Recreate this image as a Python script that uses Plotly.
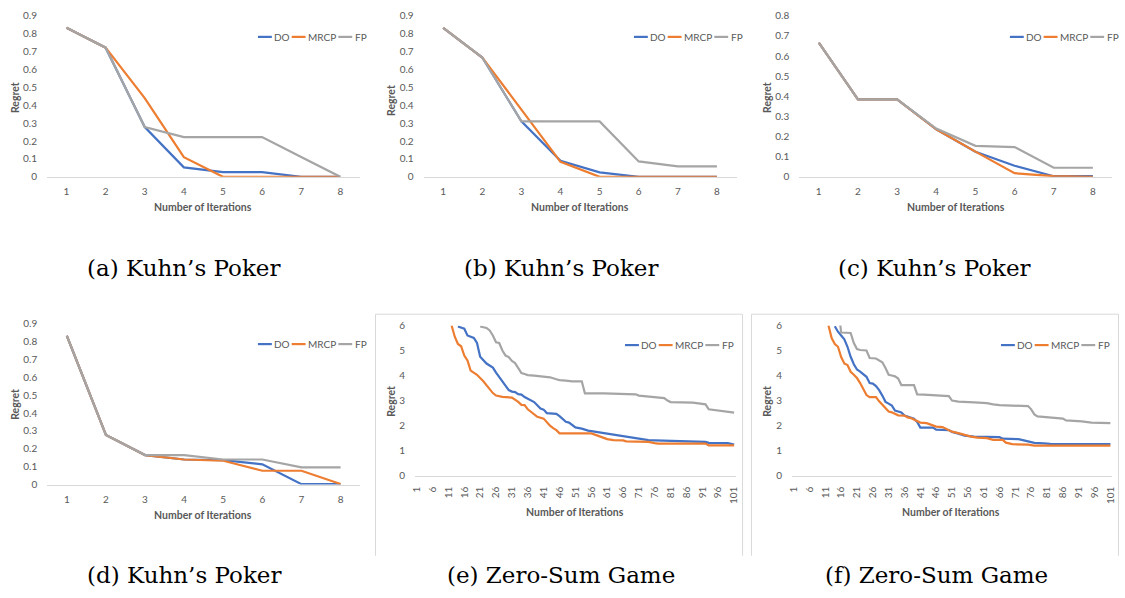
import plotly.graph_objects as go

W, H = 1125, 598

# ---------------- data ----------------
kuhn_iters = [1, 2, 3, 4, 5, 6, 7, 8]

a_do = [0.833, 0.722, 0.278, 0.053, 0.026, 0.026, 0.0, 0.0]
a_mrcp = [0.833, 0.722, 0.44, 0.11, 0.0, 0.0, 0.0, 0.0]
a_fp = [0.833, 0.722, 0.278, 0.222, 0.222, 0.222, 0.111, 0.0]

b_do = [0.833, 0.667, 0.31, 0.09, 0.025, 0.0, 0.0, 0.0]
b_mrcp = [0.833, 0.667, 0.376, 0.084, 0.0, 0.0, 0.0, 0.0]
b_fp = [0.833, 0.667, 0.31, 0.31, 0.31, 0.086, 0.058, 0.058]

c_do = [0.667, 0.385, 0.385, 0.236, 0.125, 0.055, 0.003, 0.003]
c_mrcp = [0.667, 0.385, 0.385, 0.236, 0.125, 0.018, 0.003, 0.0]
c_fp = [0.667, 0.385, 0.385, 0.24, 0.154, 0.148, 0.045, 0.045]

d_do = [0.833, 0.278, 0.165, 0.14, 0.137, 0.113, 0.002, 0.002]
d_mrcp = [0.833, 0.278, 0.165, 0.14, 0.133, 0.077, 0.077, 0.003]
d_fp = [0.833, 0.278, 0.165, 0.165, 0.14, 0.14, 0.096, 0.096]

# zero-sum game runs: (iteration, regret) at the points where the curves change
e_do_it = [14, 16, 17, 19, 20, 21, 23, 25, 26, 28, 30, 31, 32, 33, 34, 35, 37, 38, 40, 41,
           42, 45, 46, 48, 49, 51, 53, 55, 57, 59, 61, 64, 66, 69, 71, 74, 76, 78, 80, 88,
           92, 93, 99, 101]
e_do = [5.96, 5.87, 5.6, 5.5, 5.3, 4.75, 4.48, 4.32, 4.12, 3.77, 3.42, 3.36, 3.34, 3.26, 3.24,
        3.14, 3.0, 2.94, 2.68, 2.64, 2.5, 2.47, 2.38, 2.15, 2.12, 1.93, 1.88, 1.8, 1.76, 1.72,
        1.68, 1.63, 1.58, 1.52, 1.47, 1.42, 1.41, 1.4, 1.38, 1.37, 1.35, 1.31, 1.3, 1.24]

e_mrcp_it = [12, 13, 14, 15, 16, 17, 18, 20, 22, 23, 24, 25, 26, 28, 31, 32, 33, 34, 35, 36,
             37, 38, 39, 41, 42, 43, 44, 45, 46, 56, 58, 60, 61, 63, 66, 67, 74, 76, 77, 92,
             93, 101]
e_mrcp = [6.0, 5.55, 5.26, 5.17, 4.8, 4.6, 4.2, 4.03, 3.77, 3.6, 3.45, 3.3, 3.2, 3.15, 3.12,
          3.05, 2.95, 2.83, 2.82, 2.65, 2.55, 2.45, 2.35, 2.28, 2.12, 2.0, 1.9, 1.82, 1.69,
          1.69, 1.6, 1.5, 1.46, 1.42, 1.41, 1.37, 1.35, 1.3, 1.28, 1.28, 1.21, 1.21]

e_fp_it = [21, 23, 24, 25, 26, 27, 28, 29, 30, 31, 32, 33, 34, 35, 36, 38, 41, 43, 45, 46,
           48, 50, 53, 54, 60, 67, 70, 71, 76, 79, 80, 81, 88, 90, 92, 93, 96, 98, 101]
e_fp = [5.96, 5.9, 5.8, 5.6, 5.33, 5.3, 5.0, 4.8, 4.74, 4.58, 4.5, 4.3, 4.1, 4.06, 4.02, 4.0,
        3.96, 3.93, 3.85, 3.82, 3.8, 3.77, 3.77, 3.29, 3.29, 3.27, 3.25, 3.2, 3.13, 3.1, 3.0,
        2.94, 2.92, 2.88, 2.85, 2.65, 2.6, 2.55, 2.52]

f_do_it = [14, 15, 16, 17, 18, 19, 20, 21, 22, 23, 24, 25, 26, 27, 28, 29, 30, 31, 32, 33,
           34, 35, 36, 37, 38, 39, 40, 41, 45, 46, 50, 51, 53, 55, 58, 66, 67, 72, 74, 76,
           77, 80, 82, 101]
f_do = [5.97, 5.75, 5.6, 5.45, 5.15, 4.75, 4.45, 4.24, 4.16, 4.05, 3.95, 3.7, 3.68, 3.58,
        3.42, 3.2, 2.95, 2.88, 2.8, 2.6, 2.55, 2.53, 2.4, 2.35, 2.32, 2.28, 2.15, 1.92, 1.92,
        1.84, 1.82, 1.75, 1.68, 1.6, 1.56, 1.54, 1.48, 1.46, 1.4, 1.35, 1.31, 1.29, 1.27, 1.26]

f_mrcp_it = [12, 13, 14, 15, 16, 17, 18, 19, 20, 21, 22, 23, 24, 25, 27, 28, 29, 30, 31, 32,
             33, 34, 36, 37, 38, 39, 40, 41, 43, 45, 46, 48, 49, 51, 53, 55, 57, 59, 62, 64,
             67, 68, 70, 75, 77, 101]
f_mrcp = [6.0, 5.5, 5.26, 5.15, 4.74, 4.48, 4.42, 4.15, 4.03, 3.9, 3.7, 3.45, 3.22, 3.14,
          3.14, 2.97, 2.82, 2.68, 2.56, 2.53, 2.46, 2.41, 2.4, 2.33, 2.3, 2.24, 2.2, 2.12, 2.1,
          2.02, 1.96, 1.94, 1.89, 1.76, 1.7, 1.62, 1.56, 1.52, 1.5, 1.43, 1.43, 1.32, 1.26,
          1.24, 1.2, 1.2]

f_fp_it = [15, 16, 19, 20, 21, 22, 24, 25, 27, 28, 29, 30, 31, 32, 33, 34, 35, 39, 40, 42,
           44, 48, 50, 51, 53, 58, 62, 64, 66, 70, 75, 76, 77, 78, 82, 84, 86, 87, 91, 92,
           95, 101]
f_fp = [6.8, 5.72, 5.7, 5.3, 5.06, 5.02, 5.0, 4.7, 4.68, 4.62, 4.53, 4.3, 4.03, 4.0, 3.97,
        3.88, 3.62, 3.62, 3.25, 3.24, 3.22, 3.2, 3.18, 3.0, 2.96, 2.93, 2.9, 2.85, 2.82, 2.8,
        2.78, 2.65, 2.45, 2.37, 2.34, 2.3, 2.28, 2.21, 2.2, 2.17, 2.12, 2.1]

series_names = ["DO", "MRCP", "FP"]
series_colors = ["#4472C4", "#ED7D31", "#A5A5A5"]

kuhn_ticks = [1, 2, 3, 4, 5, 6, 7, 8]
zs_ticks = list(range(1, 102, 5))

captions = ["(a) Kuhn’s Poker", "(b) Kuhn’s Poker", "(c) Kuhn’s Poker",
            "(d) Kuhn’s Poker", "(e) Zero-Sum Game", "(f) Zero-Sum Game"]

# ---------------- layout helpers ----------------
TXT = "#595959"
FONT = "Lato"


def px_x(x):
    return x / W


def px_y(y):
    return 1 - y / H


panels = [
    dict(box=(42.3, 357.7, 9, 173.3), ymax=0.9, ystep=0.1, kind="kuhn",
         x=[kuhn_iters] * 3, y=[a_do, a_mrcp, a_fp],
         ytitle=(10, 92), xtitle=(200, 204), legend=(255, 30.5), caption=(180, 266)),
    dict(box=(422.0, 737.4, 9, 173.3), ymax=0.9, ystep=0.1, kind="kuhn",
         x=[kuhn_iters] * 3, y=[b_do, b_mrcp, b_fp],
         ytitle=(389, 95), xtitle=(580, 204), legend=(634, 30.5), caption=(560, 266)),
    dict(box=(800.6, 1116.4, 9, 173.3), ymax=0.8, ystep=0.1, kind="kuhn",
         x=[kuhn_iters] * 3, y=[c_do, c_mrcp, c_fp],
         ytitle=(768, 92), xtitle=(959, 204), legend=(1013, 30.5), caption=(937, 266)),
    dict(box=(42.6, 358.0, 323.3, 487.3), ymax=0.9, ystep=0.1, kind="kuhn",
         x=[kuhn_iters] * 3, y=[d_do, d_mrcp, d_fp],
         ytitle=(10, 405), xtitle=(200, 518), legend=(255, 344), caption=(180, 580)),
    dict(box=(413.4, 736.6, 325, 478.3), ymax=6, ystep=1, kind="zs",
         x=[e_do_it, e_mrcp_it, e_fp_it], y=[e_do, e_mrcp, e_fp],
         ytitle=(389, 402), xtitle=(575, 515), legend=(625, 345), caption=(560, 580)),
    dict(box=(793.4, 1115.9, 325, 478.3), ymax=6, ystep=1, kind="zs",
         x=[f_do_it, f_mrcp_it, f_fp_it], y=[f_do, f_mrcp, f_fp],
         ytitle=(768, 402), xtitle=(954, 515), legend=(1004, 345), caption=(939, 580)),
]

fig = go.Figure()
layout = dict(
    width=W, height=H, margin=dict(l=0, r=0, t=0, b=0, pad=0), autosize=False,
    paper_bgcolor="white", plot_bgcolor="white", showlegend=False,
    font=dict(family=FONT, color=TXT, size=10),
)
shapes = []
annotations = []


def label(x, y, text, size=10.5, family=FONT, color=TXT, angle=0, xanchor="center"):
    annotations.append(dict(x=px_x(x), y=px_y(y), xref="paper", yref="paper", text=text,
                            textangle=angle, xanchor=xanchor, yanchor="middle",
                            showarrow=False, font=dict(family=family, size=size, color=color)))


for i, p in enumerate(panels):
    n = "" if i == 0 else str(i + 1)
    xa, ya = "x" + n, "y" + n
    left, right, top, bottom = p["box"]
    for k in range(3):
        fig.add_trace(go.Scatter(
            x=p["x"][k], y=p["y"][k], mode="lines", name=series_names[k],
            line=dict(color=series_colors[k], width=2.2), xaxis=xa, yaxis=ya,
            hoverinfo="skip",
        ))
    if p["kind"] == "kuhn":
        xaxis = dict(range=[0.5, 8.5], tickvals=kuhn_ticks, tickangle=0,
                     ticklabelstandoff=5)
    else:
        xaxis = dict(range=[0.5, 101.5], tickvals=zs_ticks, tickangle=-90,
                     ticklabelstandoff=6)
    xaxis.update(domain=[px_x(left), px_x(right)], anchor=ya, showgrid=False,
                 zeroline=False, showline=True, linecolor="#D9D9D9", linewidth=1,
                 ticks="", tickfont=dict(family=FONT, size=10, color=TXT), fixedrange=True)
    nticks = int(round(p["ymax"] / p["ystep"]))
    yvals = [round(j * p["ystep"], 2) for j in range(nticks + 1)]
    yaxis = dict(domain=[px_y(bottom), px_y(top)], anchor=xa, range=[0, p["ymax"]],
                 tickvals=yvals, ticktext=[f"{v:g}" for v in yvals],
                 showgrid=False, zeroline=False, showline=False, ticks="",
                 ticklabelstandoff=9, tickfont=dict(family=FONT, size=10, color=TXT),
                 fixedrange=True)
    layout["xaxis" + n] = xaxis
    layout["yaxis" + n] = yaxis

    # axis titles
    label(p["ytitle"][0], p["ytitle"][1], "<b>Regret</b>", angle=-90)
    label(p["xtitle"][0], p["xtitle"][1], "<b>Number of Iterations</b>")
    # legend: line sample followed by its label
    lx, ly = p["legend"]
    offsets = [0, 34, 81]
    for k in range(3):
        x0 = lx + offsets[k]
        shapes.append(dict(type="line", xref="paper", yref="paper",
                           x0=px_x(x0), x1=px_x(x0 + 14), y0=px_y(ly), y1=px_y(ly),
                           line=dict(color=series_colors[k], width=2.2)))
        label(x0 + 14.5, ly, series_names[k], size=10, xanchor="left")
    # caption
    label(p["caption"][0], p["caption"][1], captions[i], size=23,
          family="DejaVu Serif", color="black")

# chart-area frames around the zero-sum game charts (open at the bottom)
for fx0, fx1 in [(373.5, 743.5), (752.5, 1122.5)]:
    for (ax0, ay0, ax1, ay1) in [(fx0, 313.5, fx1, 313.5), (fx0, 313.5, fx0, 560),
                                 (fx1, 313.5, fx1, 560)]:
        shapes.append(dict(type="line", xref="paper", yref="paper",
                           x0=px_x(ax0), y0=px_y(ay0), x1=px_x(ax1), y1=px_y(ay1),
                           line=dict(color="#D9D9D9", width=1)))

layout["shapes"] = shapes
layout["annotations"] = annotations
fig.update_layout(**layout)

fig.write_html("out.html", config={"displayModeBar": False})
